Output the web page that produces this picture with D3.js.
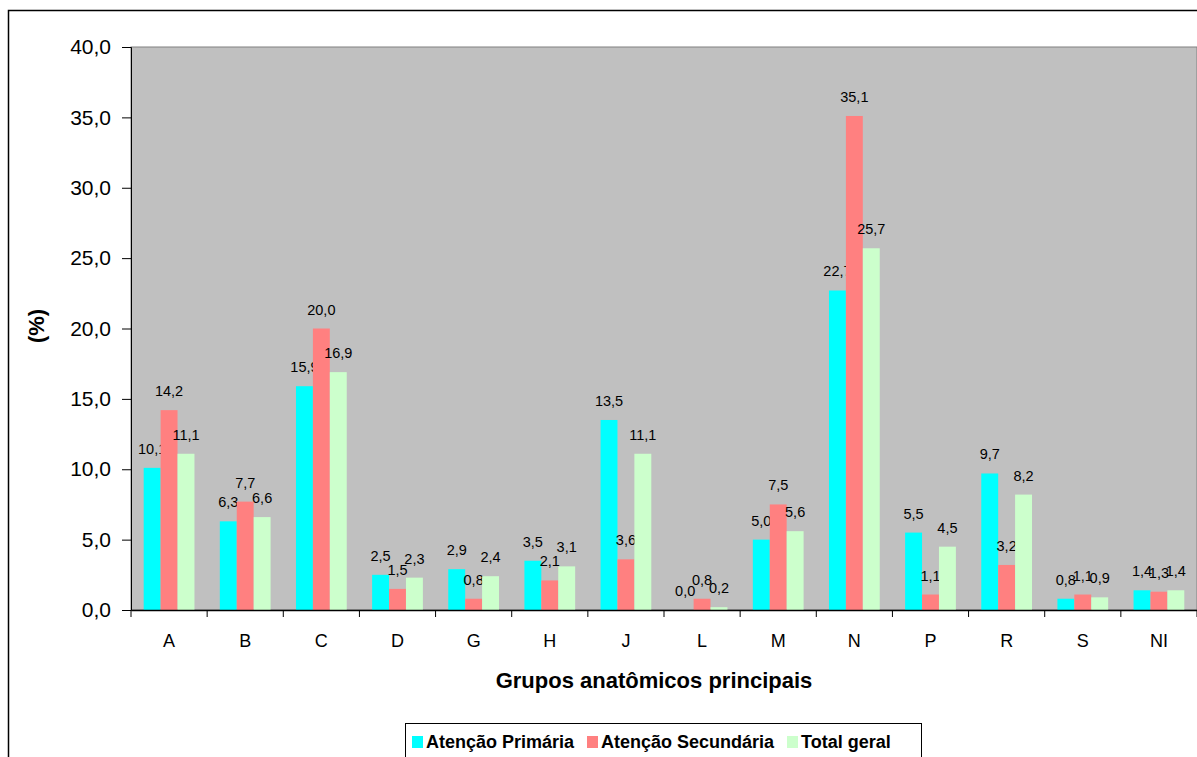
<!DOCTYPE html>
<html>
<head>
<meta charset="utf-8">
<script src="https://cdn.jsdelivr.net/npm/d3@7"></script>
<style>
  body { margin: 0; background: #fff; }
  text { font-family: "Liberation Sans", Arial, sans-serif; }
</style>
</head>
<body>
<svg id="chart" width="1197" height="757"></svg>
<script>
// chart data
const categories = ['A', 'B', 'C', 'D', 'G', 'H', 'J', 'L', 'M', 'N', 'P', 'R', 'S', 'NI'];
const primaria   = [10.1, 6.3, 15.9, 2.5, 2.9, 3.5, 13.5, 0.0, 5.0, 22.7, 5.5, 9.7, 0.8, 1.4];
const secundaria = [14.2, 7.7, 20.0, 1.5, 0.8, 2.1, 3.6, 0.8, 7.5, 35.1, 1.1, 3.2, 1.1, 1.3];
const total      = [11.1, 6.6, 16.9, 2.3, 2.4, 3.1, 11.1, 0.2, 5.6, 25.7, 4.5, 8.2, 0.9, 1.4];
const seriesNames = ['Atenção Primária', 'Atenção Secundária', 'Total geral'];
const yTicks = [0, 5, 10, 15, 20, 25, 30, 35, 40];

const colors = ['#00FFFF', '#FF8080', '#CCFFCC'];
const seriesVals = [primaria, secundaria, total];

const svg = d3.select('#chart');
const m = {left: 131, right: 1197, top: 47, bottom: 610};
const fmt = v => d3.format('.1f')(v).replace('.', ',');

// outer frame
svg.append('rect').attr('x', 8.5).attr('y', 10.5).attr('width', 1250).attr('height', 800)
    .attr('fill', 'none').attr('stroke', '#000').attr('stroke-width', 1.5);

const x = d3.scaleBand().domain(categories).range([m.left, m.right]).paddingInner(0).paddingOuter(0);
const xs = d3.scaleBand().domain(d3.range(3)).range([0, x.bandwidth()]).paddingInner(0).paddingOuter(0.75);
const y = d3.scaleLinear().domain([0, 40]).range([m.bottom, m.top]);

// plot background
svg.append('rect').attr('x', m.left).attr('y', m.top)
    .attr('width', m.right - m.left).attr('height', m.bottom - m.top)
    .attr('fill', '#C0C0C0').attr('stroke', '#808080').attr('stroke-width', 1);

// bars + value labels
const groups = svg.append('g').selectAll('g').data(categories).join('g')
    .attr('transform', d => `translate(${x(d)},0)`);

groups.each(function(c, i){
    const g = d3.select(this);
    seriesVals.forEach((vals, s) => {
        g.append('rect')
            .attr('x', xs(s)).attr('width', xs.bandwidth())
            .attr('y', y(vals[i])).attr('height', y(0) - y(vals[i]))
            .attr('fill', colors[s]);
        g.append('text')
            .attr('x', xs(s) + xs.bandwidth() / 2)
            .attr('y', y(vals[i]) - 14)
            .attr('text-anchor', 'middle')
            .attr('font-size', 14.5)
            .text(fmt(vals[i]));
    });
});

// axes
const yAxis = d3.axisLeft(y).tickValues(yTicks).tickFormat(fmt).tickSizeOuter(0).tickSize(9).tickPadding(11);
const gy = svg.append('g').attr('transform', `translate(${m.left},0)`).call(yAxis);
gy.selectAll('text').attr('font-size', 21).attr('fill', '#000');
gy.selectAll('line,path').attr('stroke', '#000');

const xAxis = d3.axisBottom(x).tickSize(0).tickPadding(24);
const gx = svg.append('g').attr('transform', `translate(0,${m.bottom})`).call(xAxis);
gx.selectAll('text').attr('font-size', 18).attr('fill', '#000');
gx.select('path').attr('stroke', '#000').attr('stroke-width', 1.5);
// ticks between categories
gx.selectAll('.bound').data(categories.concat(['end'])).join('line')
    .attr('x1', (d, i) => m.left + i * x.step()).attr('x2', (d, i) => m.left + i * x.step())
    .attr('y1', 0).attr('y2', 7).attr('stroke', '#000');

// axis titles
svg.append('text').attr('x', 654).attr('y', 688).attr('text-anchor', 'middle')
    .attr('font-size', 22).attr('font-weight', 'bold').text('Grupos anatômicos principais');
svg.append('text').attr('transform', 'translate(44,326) rotate(-90)').attr('text-anchor', 'middle')
    .attr('font-size', 22).attr('font-weight', 'bold').text('(%)');

// legend
const lg = svg.append('g');
lg.append('rect').attr('x', 405.5).attr('y', 723.5).attr('width', 516).attr('height', 50)
    .attr('fill', '#fff').attr('stroke', '#000');
const legX = [412, 587, 787];
seriesNames.forEach((n, s) => {
    lg.append('rect').attr('x', legX[s]).attr('y', 736).attr('width', 11).attr('height', 12).attr('fill', colors[s]);
    lg.append('text').attr('x', legX[s] + 14).attr('y', 748).attr('font-size', 18)
        .attr('font-weight', 'bold').text(n);
});
</script>
</body>
</html>
